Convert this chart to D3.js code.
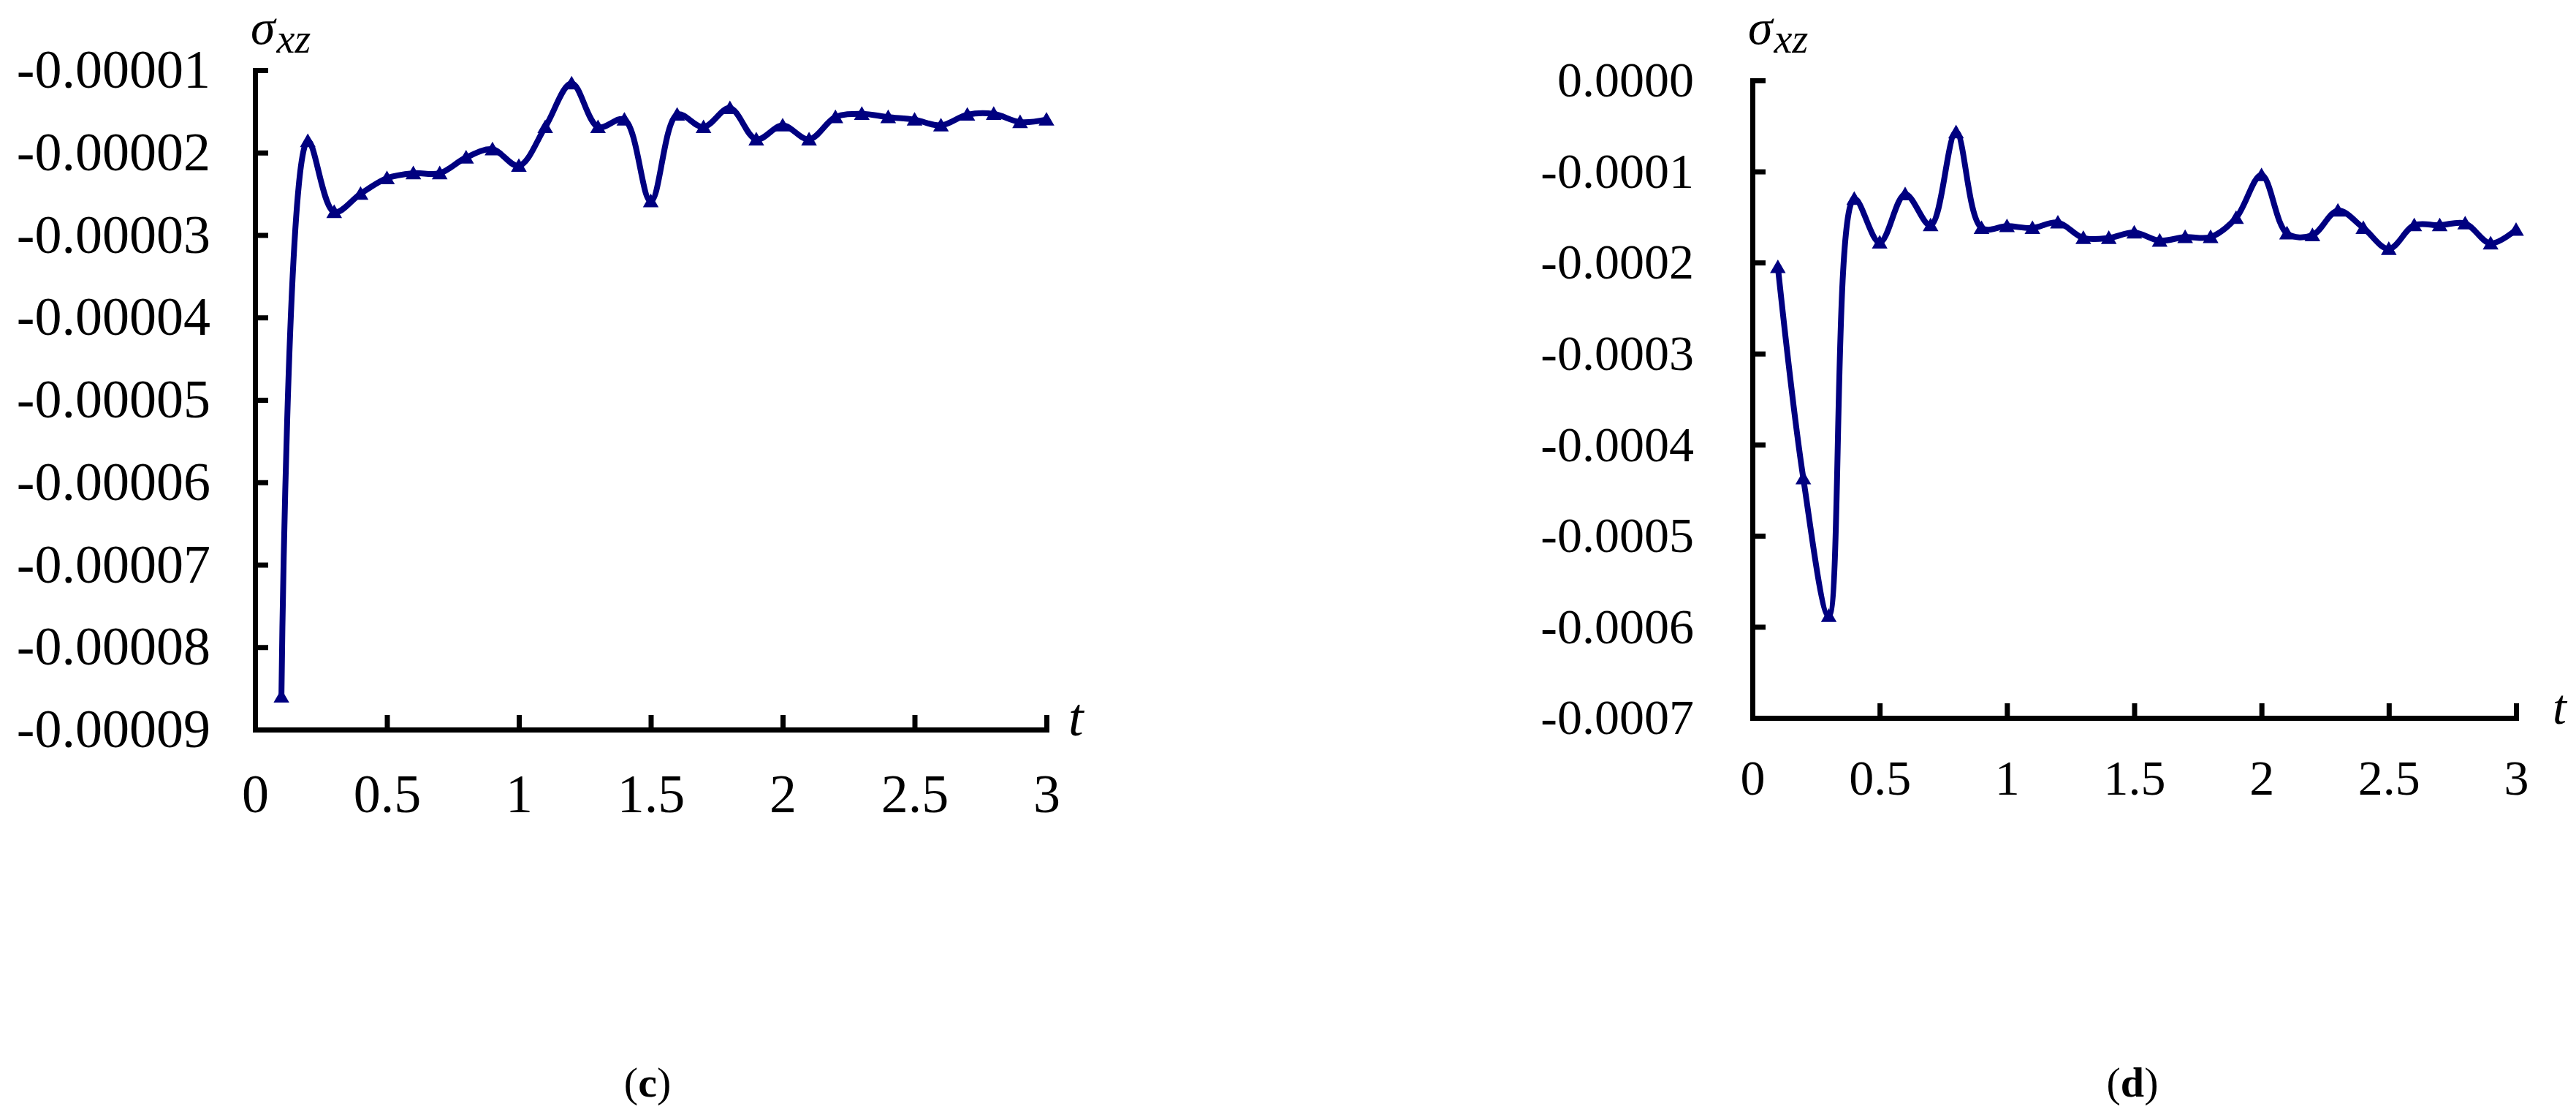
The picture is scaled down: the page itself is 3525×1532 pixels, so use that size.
<!DOCTYPE html>
<html>
<head>
<meta charset="utf-8">
<script src="https://cdn.jsdelivr.net/npm/d3@7"></script>
<style>
  html, body { margin: 0; padding: 0; background: #fff; }
  svg { display: block; }
</style>
</head>
<body>
<div id="chart"></div>
<script>
var W = 3525;
var H = 1532;
var navy = "#000080";

// time steps (same for both panels)
var tValues = [0.1, 0.2, 0.3, 0.4, 0.5, 0.6, 0.7, 0.8, 0.9, 1.0,
               1.1, 1.2, 1.3, 1.4, 1.5, 1.6, 1.7, 1.8, 1.9, 2.0,
               2.1, 2.2, 2.3, 2.4, 2.5, 2.6, 2.7, 2.8, 2.9, 3.0];

// panel (c)
var sigmaC = [-0.0000860, -0.0000186, -0.0000272, -0.0000250, -0.0000231, -0.0000225, -0.0000225, -0.0000206, -0.0000196, -0.0000216,
              -0.0000169, -0.0000116, -0.0000169, -0.0000160, -0.0000259, -0.0000154, -0.0000169, -0.0000146, -0.0000184, -0.0000167,
              -0.0000184, -0.0000157, -0.0000153, -0.0000157, -0.0000160, -0.0000167, -0.0000154, -0.0000153, -0.0000163, -0.0000160];
var yTicksC = [-0.00009, -0.00008, -0.00007, -0.00006, -0.00005, -0.00004, -0.00003, -0.00002, -0.00001];
var yLabelsC = ["-0.00009", "-0.00008", "-0.00007", "-0.00006", "-0.00005", "-0.00004", "-0.00003", "-0.00002", "-0.00001"];

// panel (d)
var sigmaD = [-0.000205, -0.000437, -0.000588, -0.000130, -0.000178, -0.000125, -0.000159, -0.000057, -0.000162, -0.000160,
              -0.000162, -0.000156, -0.000173, -0.000173, -0.000167, -0.000176, -0.000172, -0.000172, -0.000151, -0.000104,
              -0.000168, -0.000170, -0.000143, -0.000162, -0.000185, -0.000159, -0.000159, -0.000157, -0.000179, -0.000164];
var yTicksD = [-0.0007, -0.0006, -0.0005, -0.0004, -0.0003, -0.0002, -0.0001, 0];
var yLabelsD = ["-0.0007", "-0.0006", "-0.0005", "-0.0004", "-0.0003", "-0.0002", "-0.0001", "0.0000"];

var xTicks = [0, 0.5, 1, 1.5, 2, 2.5, 3];
var xLabels = ["0", "0.5", "1", "1.5", "2", "2.5", "3"];

var serif = "'Liberation Serif', 'Times New Roman', serif";

var svg = d3.select("#chart").append("svg")
	.attr("width", W)
	.attr("height", H);

svg.append("rect")
	.attr("width", W)
	.attr("height", H)
	.attr("fill", "#fff");

function drawPanel(p) {
	var g = svg.append("g");

	var x = d3.scaleLinear().domain([0, 3]).range([p.left, p.right]);
	var y = d3.scaleLinear().domain([p.yTicks[0], p.yTicks[p.yTicks.length - 1]]).range([p.bottom, p.top]);

	var yAxis = d3.axisLeft(y)
		.tickValues(p.yTicks)
		.tickFormat((d, i) => p.yLabels[i])
		.tickSizeInner(-18)
		.tickSizeOuter(0)
		.tickPadding(p.yPad);

	var xAxis = d3.axisBottom(x)
		.tickValues(xTicks)
		.tickFormat((d, i) => xLabels[i])
		.tickSizeInner(-20)
		.tickSizeOuter(0)
		.tickPadding(p.xPad);

	var ya = g.append("g")
		.attr("transform", "translate(" + p.left + ",0)")
		.call(yAxis);
	var xa = g.append("g")
		.attr("transform", "translate(0," + p.bottom + ")")
		.call(xAxis);

	[ya, xa].forEach(function(a) {
		a.select(".domain").attr("stroke-width", 7).attr("stroke-linecap", "square").attr("stroke", "#000");
		a.selectAll(".tick line").attr("stroke-width", 7).attr("stroke", "#000");
		a.selectAll(".tick text")
			.attr("fill", "#000")
			.style("font-family", serif)
			.style("font-size", p.fontSize + "px");
	});
	xa.select(".tick line").remove(); // the 0 tick sits on the y axis

	var line = d3.line()
		.x((d, i) => x(tValues[i]))
		.y(d => y(d))
		.curve(d3.curveCatmullRom.alpha(0.5));

	g.append("path")
		.datum(p.values)
		.attr("d", line)
		.attr("fill", "none")
		.attr("stroke", navy)
		.attr("stroke-width", 8)
		.attr("stroke-linejoin", "round");

	g.selectAll("path.marker")
		.data(p.values)
		.enter()
		.append("path")
		.attr("class", "marker")
		.attr("d", d3.symbol(d3.symbolTriangle, 200))
		.attr("transform", (d, i) => "translate(" + x(tValues[i]) + "," + (y(d) + 2) + ")")
		.attr("fill", navy);

	// sigma_xz label
	var lab = g.append("text")
		.attr("x", p.left - 6)
		.attr("y", 60)
		.style("font-family", serif)
		.style("font-style", "italic")
		.style("font-size", "68px")
		.attr("fill", "#000");
	lab.append("tspan").text("σ");
	lab.append("tspan")
		.attr("dy", 12)
		.attr("dx", 2)
		.style("font-size", "56px")
		.text("xz");

	// t label
	g.append("text")
		.attr("x", p.right + p.tOff)
		.attr("y", p.bottom + 8)
		.style("font-family", serif)
		.style("font-style", "italic")
		.style("font-size", p.fontSize + "px")
		.attr("fill", "#000")
		.text("t");

	// caption
	var cap = g.append("text")
		.attr("x", p.capX)
		.attr("y", 1500)
		.attr("text-anchor", "middle")
		.style("font-family", serif)
		.style("font-size", "58px")
		.attr("fill", "#000");
	cap.append("tspan").text("(");
	cap.append("tspan").style("font-weight", "bold").text(p.caption);
	cap.append("tspan").text(")");
}

drawPanel({
	left: 349, right: 1432, top: 96, bottom: 998,
	yTicks: yTicksC, yLabels: yLabelsC, values: sigmaC,
	yPad: 61, xPad: 60, fontSize: 74, caption: "c", capX: 886, tOff: 30
});

drawPanel({
	left: 2398, right: 3443, top: 110, bottom: 982,
	yTicks: yTicksD, yLabels: yLabelsD, values: sigmaD,
	yPad: 80, xPad: 57, fontSize: 68, caption: "d", capX: 2918, tOff: 50
});
</script>
</body>
</html>
